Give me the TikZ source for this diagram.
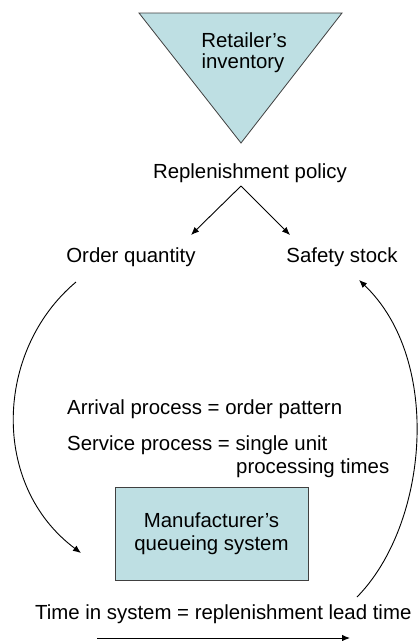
\documentclass[tikz,border=0pt]{standalone}
\usepackage{fontspec}
\setmainfont{Liberation Sans}
\usetikzlibrary{arrows.meta}
\definecolor{boxfill}{RGB}{190,223,227}
\begin{document}
\begin{tikzpicture}[x=1pt,y=-1pt,
  lbl/.style={inner sep=0pt, font=\fontsize{20.4}{23}\selectfont},
  conn/.style={line width=0.9pt, -{Latex[length=8pt,width=6.5pt]}},
  shapeline/.style={draw=black!75, line width=0.8pt, fill=boxfill}]
\useasboundingbox (0,0) rectangle (418,641);

% retailer's inventory (inverted triangle)
\coordinate (tl) at (139,13);
\coordinate (tr) at (342,13);
\coordinate (tip) at (241,143);
\draw[shapeline] (tl) -- (tr) -- (tip) -- cycle;
\node[lbl, anchor=base] (ret1) at (244,47) {Retailer’s};
\node[lbl, anchor=base] (ret2) at (243,68) {inventory};

% replenishment policy and its two parts
\node[lbl, anchor=base] (policy) at (250,178) {Replenishment policy};
\node[lbl, anchor=base] (oq) at (131,262) {Order quantity};
\node[lbl, anchor=base] (ss) at (342,262) {Safety stock};
\coordinate (split) at (241,186);
\coordinate (oqend) at (191,235);
\coordinate (ssend) at (290,235);
\draw[conn] (split) -- (oqend);
\draw[conn] (split) -- (ssend);

% queue description
\node[lbl, anchor=base west] (arr) at (67,414) {Arrival process = order pattern};
\node[lbl, anchor=base west] (srv) at (67,450) {Service process = single unit};
\node[lbl, anchor=base west] (srv2) at (236,473) {processing times};

% manufacturer's queueing system
\node[shapeline, lbl, minimum width=193pt, minimum height=93pt, align=center]
  (queue) at (211.5,533.5) {Manufacturer’s\\queueing system};

% lead time
\node[lbl, anchor=base west] (lead) at (35,619) {Time in system = replenishment lead time};
\coordinate (ltstart) at (97,638);
\coordinate (ltend) at (350,638);
\draw[conn] (ltstart) -- (ltend);

% feedback loop
\coordinate (oqout) at (76,282);
\coordinate (qin) at (81,553);
\coordinate (leadout) at (357,597);
\coordinate (ssin) at (359,280);
\draw[conn] (oqout) .. controls (-5,350) and (-10,485) .. (qin);
\draw[conn] (leadout) .. controls (428,525) and (443,360) .. (ssin);
\end{tikzpicture}
\end{document}
